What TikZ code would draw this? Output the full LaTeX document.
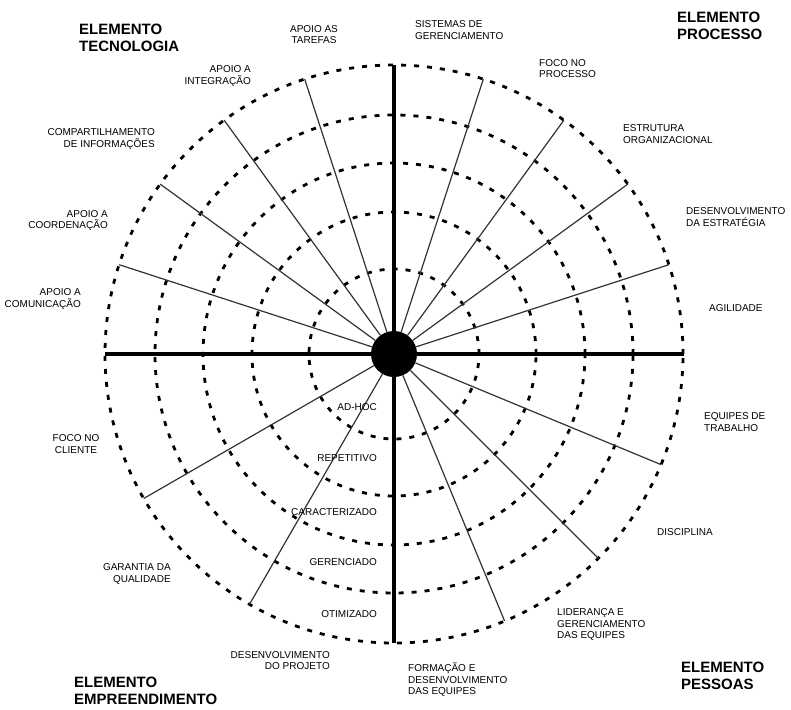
\documentclass[tikz,border=0pt]{standalone}
\usepackage{fontspec}
\setmainfont{Liberation Sans}
\begin{document}
\begin{tikzpicture}[x=1pt,y=-1pt,
  ring/.style={draw=black, line width=2.8pt, dash pattern=on 5pt off 8pt},
  spoke/.style={draw=black!80, line width=1.2pt},
  axisline/.style={draw=black, line width=4pt},
  lbl/.style={inner sep=0pt, font=\fontsize{10}{11.5}\selectfont},
  lblL/.style={lbl, align=left, anchor=west},
  lblR/.style={lbl, align=right, anchor=east},
  lblC/.style={lbl, align=center, anchor=center},
  ttl/.style={inner sep=0pt, font=\fontsize{15}{17}\selectfont\bfseries, align=left, anchor=west},
]
\useasboundingbox (0,0) rectangle (791,709);
\fill[white] (0,0) rectangle (791,709);
\coordinate (c) at (394,354);
% rings
\foreach \r in {85,142,191,239,289} \draw[ring] (c) circle[radius=\r pt];
% axes
\coordinate (top) at (394,65);
\coordinate (bottom) at (394,643);
\coordinate (left) at (105,354);
\coordinate (right) at (684,354);
\draw[axisline] (top) -- (bottom);
\draw[axisline] (left) -- (right);
% hub
\node[circle, fill=black, minimum size=46pt, inner sep=0pt] (hub) at (c) {};
% spokes
\foreach \a/\n in {18/p1,36/p2,54/p3,72/p4,108/t1,126/t2,144/t3,162/t4,210/e1,240/e2,292.5/s1,315/s2,337.5/s3}{
  \path (c) ++(\a:289pt) coordinate (\n);
  \draw[spoke] (hub) -- (\n);
}
% titles
\node[ttl] (ttec) at (79,37.5) {ELEMENTO\\TECNOLOGIA};
\node[ttl] (tpro) at (677,26) {ELEMENTO\\PROCESSO};
\node[ttl] (temp) at (74,691) {ELEMENTO\\EMPREENDIMENTO};
\node[ttl] (tpes) at (681,675.5) {ELEMENTO\\PESSOAS};
% tecnologia
\node[lblC] (l1) at (314,34.5) {APOIO AS\\TAREFAS};
\node[lblR] (l2) at (251,76) {APOIO A\\INTEGRAÇÃO};
\node[lblR] (l3) at (155,139) {COMPARTILHAMENTO\\DE INFORMAÇÕES};
\node[lblR] (l4) at (108,220.5) {APOIO A\\COORDENAÇÃO};
\node[lblR] (l5) at (81,299) {APOIO A\\COMUNICAÇÃO};
% processo
\node[lblL] (l6) at (415,30) {SISTEMAS DE\\GERENCIAMENTO};
\node[lblL] (l7) at (539,68.5) {FOCO NO\\PROCESSO};
\node[lblL] (l8) at (623,134) {ESTRUTURA\\ORGANIZACIONAL};
\node[lblL] (l9) at (686,217) {DESENVOLVIMENTO\\DA ESTRATÉGIA};
\node[lblL] (l10) at (709,308) {AGILIDADE};
% pessoas
\node[lblL] (l11) at (704,422) {EQUIPES DE\\TRABALHO};
\node[lblL] (l12) at (657,532) {DISCIPLINA};
\node[lblL] (l13) at (557,624.5) {LIDERANÇA E\\GERENCIAMENTO\\DAS EQUIPES};
\node[lblL] (l14) at (408,680) {FORMAÇÃO E\\DESENVOLVIMENTO\\DAS EQUIPES};
% empreendimento
\node[lblC] (l15) at (76,444) {FOCO NO\\CLIENTE};
\node[lblR] (l16) at (171,574) {GARANTIA DA\\QUALIDADE};
\node[lblR] (l17) at (330,660.5) {DESENVOLVIMENTO\\DO PROJETO};
% levels
\node[lblR] (v1) at (377,407) {AD-HOC};
\node[lblR] (v2) at (377,458) {REPETITIVO};
\node[lblR] (v3) at (377,512) {CARACTERIZADO};
\node[lblR] (v4) at (377,562) {GERENCIADO};
\node[lblR] (v5) at (377,614) {OTIMIZADO};
\end{tikzpicture}
\end{document}
